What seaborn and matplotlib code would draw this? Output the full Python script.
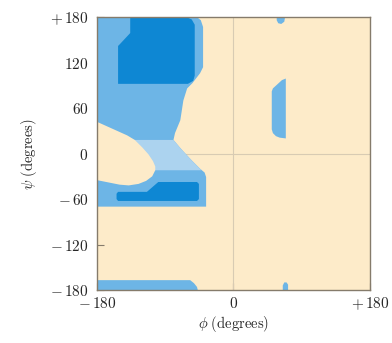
import matplotlib
matplotlib.use("Agg")
import matplotlib.pyplot as plt
import seaborn as sns

# OUTLINES OF THE ALLOWED REGIONS (phi, psi in degrees)
# medium blue: upper left region incl. the band near psi = -60
allowed_phi = [-180, -48, -43, -40, -40, -44, -54, -61, -66, -70, -77, -79,
               -74, -68, -55, -44, -38, -36, -36, -180]
allowed_psi = [180, 180, 176, 167, 114, 106, 93, 86, 70, 44, 27, 18,
               12, 5, -9, -20, -25, -31, -70, -70]

# pale blue bridge
bridge_phi = [-140, -79, -74, -68, -55, -42, -104, -125]
bridge_psi = [18, 18, 12, 5, -9, -22, -22, 5]

# beige hole on the left
hole_phi = [-180, -160, -140, -130, -120, -112, -106, -103, -103, -107,
            -115, -125, -138, -150, -165, -180]
hole_psi = [42, 33, 24, 18, 8, -1, -10, -17, -22, -30,
            -36, -40, -42, -41, -38, -35]

# dark blue: beta sheet core
beta_phi = [-136, -62, -55, -51, -51, -53, -60, -152, -152, -150, -136]
beta_psi = [180, 180, 177, 170, 103, 96, 92, 92, 142, 144, 159]

# dark blue: alpha helix core
alpha_phi = [-152, -114, -99, -48, -45.5, -45.5, -48, -152, -154, -154]
alpha_psi = [-50.5, -50.5, -37.5, -37.5, -40, -60, -62.5, -62.5, -60, -53]

# medium blue strip at the bottom
strip_phi = [-180, -57, -52, -48, -47, -180]
strip_psi = [-167, -167, -171, -176, -180, -180]

# small regions on the right (left-handed helix)
left_phi = [69, 64, 52, 50.5, 50.5, 52, 56, 61, 69]
left_psi = [99, 97, 86, 82, 32, 27, 23, 21, 20]
top_blob_phi = [57, 68, 67, 63, 59, 57]
top_blob_psi = [180, 180, 174, 171, 172, 176]
bottom_blob_phi = [65, 72, 72, 70, 67, 65]
bottom_blob_psi = [-180, -180, -173, -170, -170, -174]

ticks_y = [-180, -120, -60, 0, 60, 120, 180]
labels_y = [r"$-\,180$", r"$-\,120$", r"$-\,60$", "$0$", "$60$", "$120$", r"$+\,180$"]
ticks_x = [-180, 0, 180]
labels_x = [r"$-\,180$", "$0$", r"$+\,180$"]

sns.set_theme(style="white")
plt.rcParams["mathtext.fontset"] = "cm"

beige = "#fdebc9"
medium = "#6db5e6"
pale = "#acd3ef"
dark = "#0e87d3"
frame = "#857b6b"

fig = plt.figure(figsize=(3.92, 3.43), dpi=100)
ax = fig.add_axes([0.247, 0.1545, 0.697, 0.7955])
ax.set_facecolor(beige)

ax.axvline(0, color="#d8cbb3", lw=0.8, zorder=1)
ax.axhline(0, color="#d8cbb3", lw=0.8, zorder=1)

ax.fill(allowed_phi, allowed_psi, color=medium, lw=0, zorder=2)
ax.fill(bridge_phi, bridge_psi, color=pale, lw=0, zorder=3)
ax.fill(hole_phi, hole_psi, color=beige, lw=0, zorder=4)
ax.fill(beta_phi, beta_psi, color=dark, lw=0, zorder=5)
ax.fill(alpha_phi, alpha_psi, color=dark, lw=0, zorder=5)
ax.fill(strip_phi, strip_psi, color=medium, lw=0, zorder=2)
ax.fill(left_phi, left_psi, color=medium, lw=0, zorder=2)
ax.fill(top_blob_phi, top_blob_psi, color=medium, lw=0, zorder=2)
ax.fill(bottom_blob_phi, bottom_blob_psi, color=medium, lw=0, zorder=2)

ax.set_xlim(-180, 180)
ax.set_ylim(-180, 180)
ax.set_xticks(ticks_x)
ax.set_xticklabels(labels_x)
ax.set_yticks(ticks_y)
ax.set_yticklabels(labels_y)
ax.tick_params(axis="x", direction="in", length=5, width=0.8, color=frame,
               pad=4, labelsize=11, bottom=True)
ax.tick_params(axis="y", direction="in", length=5, width=0.8, color=frame,
               pad=6, labelsize=11, left=True)

for s in ax.spines.values():
    s.set_color(frame)
    s.set_linewidth(1.0)
    s.set_zorder(6)

ax.set_xlabel(r"$\phi\ \mathrm{(degrees)}$", fontsize=10.5, labelpad=1)
ax.set_ylabel(r"$\psi\ \mathrm{(degrees)}$", fontsize=10.5, labelpad=8)

plt.savefig("out.png", dpi=100)
